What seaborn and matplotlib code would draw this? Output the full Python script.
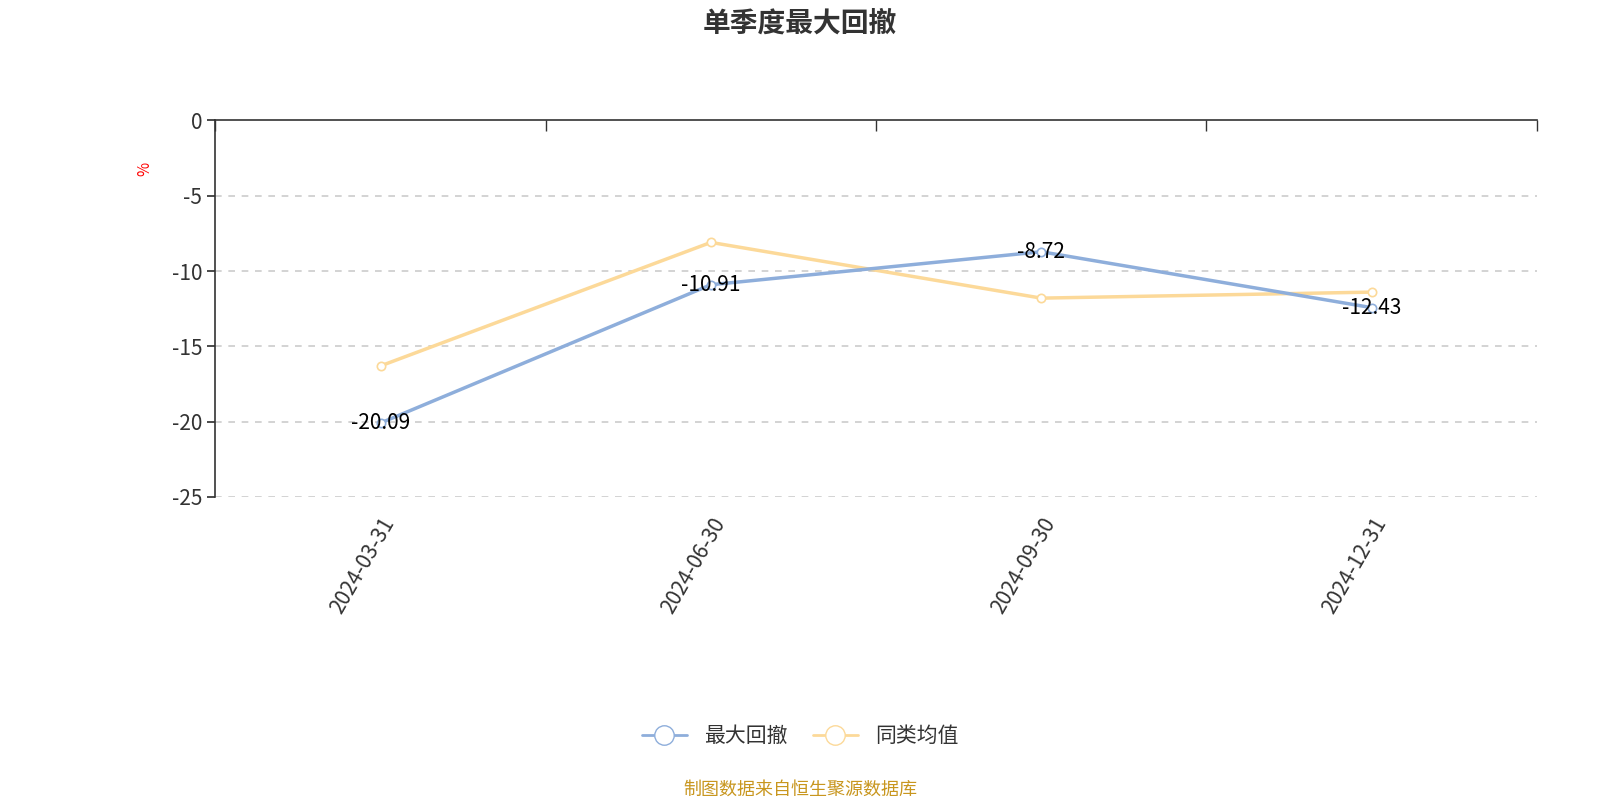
import matplotlib
matplotlib.use("Agg")
import matplotlib.pyplot as plt
import seaborn as sns
import pandas as pd
from matplotlib.lines import Line2D

dates = ["2024-03-31", "2024-06-30", "2024-09-30", "2024-12-31"]
max_dd = [-20.09, -10.91, -8.72, -12.43]
peer_avg = [-16.3, -8.1, -11.8, -11.4]
yticks = [0, -5, -10, -15, -20, -25]

sns.set_theme(style="white")
plt.rcParams['font.family'] = ['Noto Sans CJK SC', 'DejaVu Sans']

fig = plt.figure(figsize=(16, 8), dpi=100)
ax = fig.add_axes([0.1346, 0.3788, 0.8259, 0.4707])
df = pd.DataFrame({"x": range(4), "a": max_dd, "b": peer_avg})
blue, yellow = "#8eaedb", "#fcd999"
sns.lineplot(data=df, x="x", y="b", ax=ax, color=yellow, lw=2.5, marker="o",
             markersize=6, markerfacecolor="white", markeredgecolor=yellow, markeredgewidth=1.2)
sns.lineplot(data=df, x="x", y="a", ax=ax, color=blue, lw=2.5, marker="o",
             markersize=6, markerfacecolor="white", markeredgecolor=blue, markeredgewidth=1.2)
for i, v in enumerate(max_dd):
    ax.text(i, v, f"{v:.2f}", ha="center", va="center", fontsize=15, color="black")

ax.set_xlim(-0.5, 3.5)
ax.set_ylim(-25, 0)
ax.set_yticks(yticks)
ax.set_yticklabels([str(t) for t in yticks], fontsize=15, color="#333333")
ax.set_xticks(range(4))
ax.set_xticklabels(dates, rotation=60, ha="right", rotation_mode="anchor", fontsize=15, color="#333333")
ax.tick_params(axis="x", which="major", length=0, pad=12)
ax.set_xticks([-0.5, 0.5, 1.5, 2.5, 3.5], minor=True)
ax.xaxis.set_tick_params(which="minor", top=True, bottom=False, direction="in", length=8, color="#333333")
ax.tick_params(axis="y", left=True, length=6, color="#333333")
for y in yticks[1:]:
    ax.axhline(y, color="#cccccc", ls=(0, (4, 4)), lw=1.2, zorder=0)
for s in ["right", "bottom"]:
    ax.spines[s].set_visible(False)
for s in ["top", "left"]:
    ax.spines[s].set_color("#333333")
    ax.spines[s].set_linewidth(1.2)
ax.set_xlabel("")
ax.set_ylabel("%", color="red", fontsize=11)
ax.yaxis.set_label_coords(-0.047, 0.87)

fig.text(0.5, 0.97, "单季度最大回撤", ha="center", va="center", fontsize=20, fontweight="bold", color="#333333")
handles = [Line2D([], [], color=blue, lw=2, marker="o", markersize=14, markerfacecolor="white"),
           Line2D([], [], color=yellow, lw=2, marker="o", markersize=14, markerfacecolor="white")]
fig.legend(handles, ["最大回撤", "同类均值"], loc="center", bbox_to_anchor=(0.5, 0.08), ncol=2,
           frameon=False, fontsize=15, handlelength=2.2, columnspacing=1.2, labelcolor="#333333")
fig.text(0.5, 0.013, "制图数据来自恒生聚源数据库", ha="center", va="center", fontsize=13, color="#c8961e")
fig.savefig("out.png")
